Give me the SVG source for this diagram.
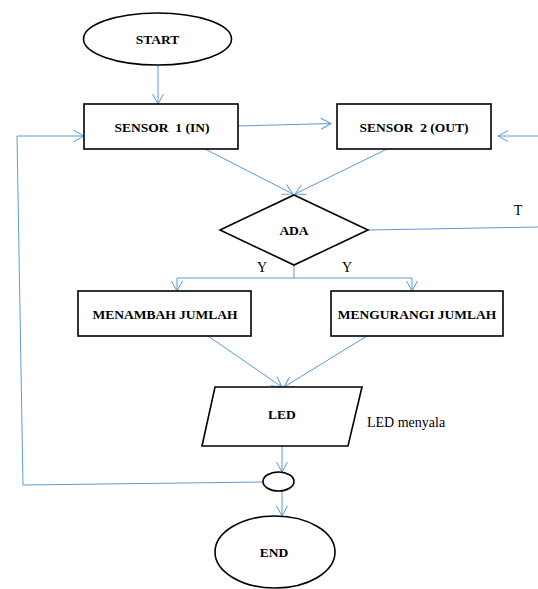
<svg xmlns="http://www.w3.org/2000/svg" width="538" height="589" viewBox="0 0 538 589">
<defs>
<marker id="arr" markerUnits="userSpaceOnUse" markerWidth="12" markerHeight="14" refX="11" refY="6" orient="auto" viewBox="0 0 12 12">
<path d="M1,0.5 L11,6 L1,11.5" fill="none" stroke="#5B9BD5" stroke-width="1"/>
</marker>
</defs>
<style>
.shape{fill:#fff;stroke:#000;stroke-width:1.6}
.lbl{font-family:'Liberation Serif','Times New Roman',Tinos,'DejaVu Serif',serif;font-weight:bold;font-size:13.5px;text-anchor:middle;fill:#000}
.txt{font-family:'Liberation Serif','Times New Roman',Tinos,'DejaVu Serif',serif;font-size:14px;fill:#000}
.c{fill:none;stroke:#5B9BD5;stroke-width:1}
.ca{fill:none;stroke:#5B9BD5;stroke-width:1;marker-end:url(#arr)}
</style>
<rect width="538" height="589" fill="#fff"/>
<g id="connectors">
<path class="ca" d="M158,65 L158,104"/>
<path class="ca" d="M238,126 L331,123.5"/>
<path class="ca" d="M538,136 L498,136"/>
<path class="ca" d="M263,482 L23,485 L17,136 L84,136"/>
<path class="ca" d="M205,149 L293,194"/>
<path class="ca" d="M387,149 L295,194"/>
<path class="c" d="M368,230 L538,227"/>
<path class="c" d="M294,265 L294,278"/>
<path class="ca" d="M294,278 L177,278 L177,291"/>
<path class="ca" d="M294,278 L412,278 L412,291"/>
<path class="ca" d="M208,336 L282,387"/>
<path class="ca" d="M367,336 L284,387"/>
<path class="ca" d="M282,446 L282,472"/>
<path class="ca" d="M282,491 L282,516"/>
</g>
<g id="start">
<ellipse class="shape" cx="157.5" cy="39" rx="74" ry="26"/>
<text class="lbl" x="157.5" y="44">START</text>
</g>
<g id="sensor1">
<rect class="shape" x="84" y="104" width="154" height="45"/>
<text class="lbl" x="162" y="132" xml:space="preserve">SENSOR  1 (IN)</text>
</g>
<g id="sensor2">
<rect class="shape" x="337" y="104" width="154" height="45"/>
<text class="lbl" x="414" y="132" xml:space="preserve">SENSOR  2 (OUT)</text>
</g>
<g id="ada">
<polygon class="shape" points="294,195 368,230 294,265 220,230"/>
<text class="lbl" x="294" y="235">ADA</text>
</g>
<g id="labels">
<text class="txt" x="518" y="215" text-anchor="middle">T</text>
<text class="txt" x="262" y="272" text-anchor="middle">Y</text>
<text class="txt" x="347" y="272" text-anchor="middle">Y</text>
<text class="txt" x="367" y="427">LED menyala</text>
</g>
<g id="menambah">
<rect class="shape" x="78" y="291" width="173" height="45"/>
<text class="lbl" x="165" y="319">MENAMBAH JUMLAH</text>
</g>
<g id="mengurangi">
<rect class="shape" x="331" y="291" width="172" height="45"/>
<text class="lbl" x="417" y="319">MENGURANGI JUMLAH</text>
</g>
<g id="led">
<polygon class="shape" points="215,387 362,387 348,446 202,446"/>
<text class="lbl" x="282" y="419">LED</text>
</g>
<g id="connector-node">
<ellipse class="shape" cx="278.5" cy="481.5" rx="15.5" ry="9.5"/>
</g>
<g id="end">
<ellipse class="shape" cx="275" cy="552" rx="60" ry="36"/>
<text class="lbl" x="274" y="557">END</text>
</g>
</svg>
